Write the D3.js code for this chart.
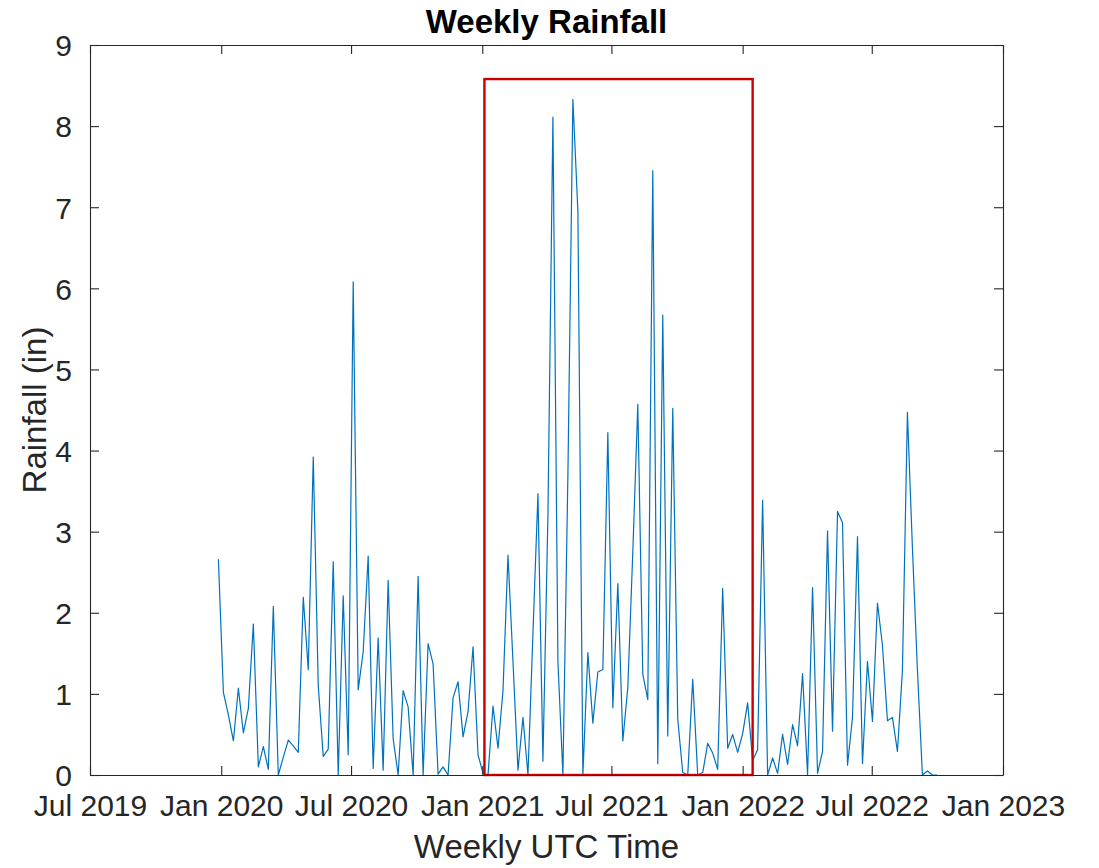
<!DOCTYPE html>
<html>
<head>
<meta charset="utf-8">
<script src="https://cdn.jsdelivr.net/npm/d3@7"></script>
<style>
  body { margin: 0; background: #fff; }
  svg { display: block; font-family: "Liberation Sans", Arial, Helvetica, sans-serif; }
</style>
</head>
<body>
<svg id="chart"></svg>
<script>
// weekly rainfall (in), first week starting 2019-12-28
const startDate = '2019-12-28';
const rainfall = [
  2.66, 1.02, 0.74, 0.42, 1.07, 0.52, 0.82, 1.86, 0.10, 0.35,
  0.07, 2.08, 0.00, 0.22, 0.43, 0.36, 0.28, 2.19, 1.30, 3.92,
  1.10, 0.23, 0.32, 2.63, 0.00, 2.21, 0.25, 6.08, 1.05, 1.52,
  2.70, 0.08, 1.69, 0.06, 2.40, 0.45, 0.00, 1.04, 0.84, 0.00,
  2.45, 0.00, 1.62, 1.37, 0.01, 0.10, 0.00, 0.95, 1.15, 0.47,
  0.78, 1.58, 0.25, 0.02, 0.00, 0.85, 0.33, 1.04, 2.71, 1.40,
  0.06, 0.71, 0.00, 1.75, 3.47, 0.17, 3.20, 8.11, 1.40, 0.00,
  3.70, 8.33, 6.95, 0.00, 1.51, 0.64, 1.27, 1.30, 4.22, 0.83,
  2.36, 0.42, 1.08, 2.75, 4.57, 1.24, 0.93, 7.45, 0.14, 5.67,
  0.48, 4.52, 0.69, 0.03, 0.00, 1.18, 0.00, 0.03, 0.39, 0.27,
  0.07, 2.30, 0.33, 0.50, 0.28, 0.51, 0.89, 0.18, 0.31, 3.39,
  0.00, 0.21, 0.02, 0.50, 0.13, 0.62, 0.36, 1.25, 0.00, 2.31,
  0.02, 0.29, 3.01, 0.54, 3.25, 3.11, 0.12, 0.71, 2.94, 0.14,
  1.40, 0.66, 2.12, 1.60, 0.67, 0.71, 0.29, 1.29, 4.47, 2.80,
  1.30, 0.00, 0.05, 0.00, 0.00
];
const xTickDates = ['2019-07-01', '2020-01-01', '2020-07-01', '2021-01-01',
  '2021-07-01', '2022-01-01', '2022-07-01', '2023-01-01'];
const xTickLabels = ['Jul 2019', 'Jan 2020', 'Jul 2020', 'Jan 2021',
  'Jul 2021', 'Jan 2022', 'Jul 2022', 'Jan 2023'];
const yTicks = [0, 1, 2, 3, 4, 5, 6, 7, 8, 9];
// highlighted period box
const boxDates = ['2021-01-04', '2022-01-15'];
const boxTop = 8.58;

const width = 1099, height = 868;
const margin = { top: 45, right: 96, bottom: 93, left: 90 };
const axisColor = '#262626';

const svg = d3.select('#chart').attr('width', width).attr('height', height);

const x = d3.scaleUtc()
  .domain([new Date(xTickDates[0]), new Date(xTickDates[xTickDates.length - 1])])
  .range([margin.left, width - margin.right]);
const y = d3.scaleLinear().domain([0, 9]).range([height - margin.bottom, margin.top]);

const t0 = new Date(startDate);
const data = rainfall.map((v, i) => ({ date: d3.utcDay.offset(t0, i * 7), value: v }));

// line
svg.append('path')
  .datum(data)
  .attr('fill', 'none')
  .attr('stroke', '#0072BD')
  .attr('stroke-width', 1.2)
  .attr('stroke-linejoin', 'round')
  .attr('d', d3.line().x(d => x(d.date)).y(d => y(d.value)));

// red box
svg.append('rect')
  .attr('x', x(new Date(boxDates[0])))
  .attr('y', y(boxTop))
  .attr('width', x(new Date(boxDates[1])) - x(new Date(boxDates[0])))
  .attr('height', y(0) - y(boxTop))
  .attr('fill', 'none')
  .attr('stroke', '#C80000')
  .attr('stroke-width', 2.4);

// axes (ticks inward, box on)
const tickLen = 9;
const xTickVals = xTickDates.map(d => new Date(d));

const xAxis = svg.append('g')
  .attr('transform', `translate(0,${y(0)})`)
  .call(d3.axisBottom(x).tickValues(xTickVals)
    .tickFormat((d, i) => xTickLabels[i]).tickSizeInner(-tickLen).tickSizeOuter(0).tickPadding(20));
const xAxisTop = svg.append('g')
  .attr('transform', `translate(0,${y(9)})`)
  .call(d3.axisTop(x).tickValues(xTickVals).tickFormat('').tickSizeInner(-tickLen).tickSizeOuter(0));
const yAxis = svg.append('g')
  .attr('transform', `translate(${x.range()[0]},0)`)
  .call(d3.axisLeft(y).tickValues(yTicks).tickFormat(d3.format('d'))
    .tickSizeInner(-tickLen).tickSizeOuter(0).tickPadding(18));
const yAxisRight = svg.append('g')
  .attr('transform', `translate(${x.range()[1]},0)`)
  .call(d3.axisRight(y).tickValues(yTicks).tickFormat('').tickSizeInner(-tickLen).tickSizeOuter(0));

[xAxis, xAxisTop, yAxis, yAxisRight].forEach(g => {
  g.select('.domain').attr('stroke', axisColor).attr('stroke-width', 1.1);
  g.selectAll('.tick line').attr('stroke', axisColor).attr('stroke-width', 1.1);
  g.selectAll('.tick text').attr('fill', axisColor)
    .style('font-size', '30px').style('font-family', '"Liberation Sans", Arial, sans-serif');
});
yAxis.selectAll('.tick text').attr('dy', '0.36em');

// labels
svg.append('text')
  .attr('x', (x.range()[0] + x.range()[1]) / 2)
  .attr('y', 33)
  .attr('text-anchor', 'middle')
  .style('font-size', '33px').style('font-weight', 'bold')
  .attr('fill', '#000')
  .text('Weekly Rainfall');

svg.append('text')
  .attr('x', (x.range()[0] + x.range()[1]) / 2)
  .attr('y', 858)
  .attr('text-anchor', 'middle')
  .style('font-size', '33px')
  .attr('fill', axisColor)
  .text('Weekly UTC Time');

svg.append('text')
  .attr('transform', `translate(46,${(y(0) + y(9)) / 2}) rotate(-90)`)
  .attr('text-anchor', 'middle')
  .style('font-size', '33px')
  .attr('fill', axisColor)
  .text('Rainfall (in)');
</script>
</body>
</html>
